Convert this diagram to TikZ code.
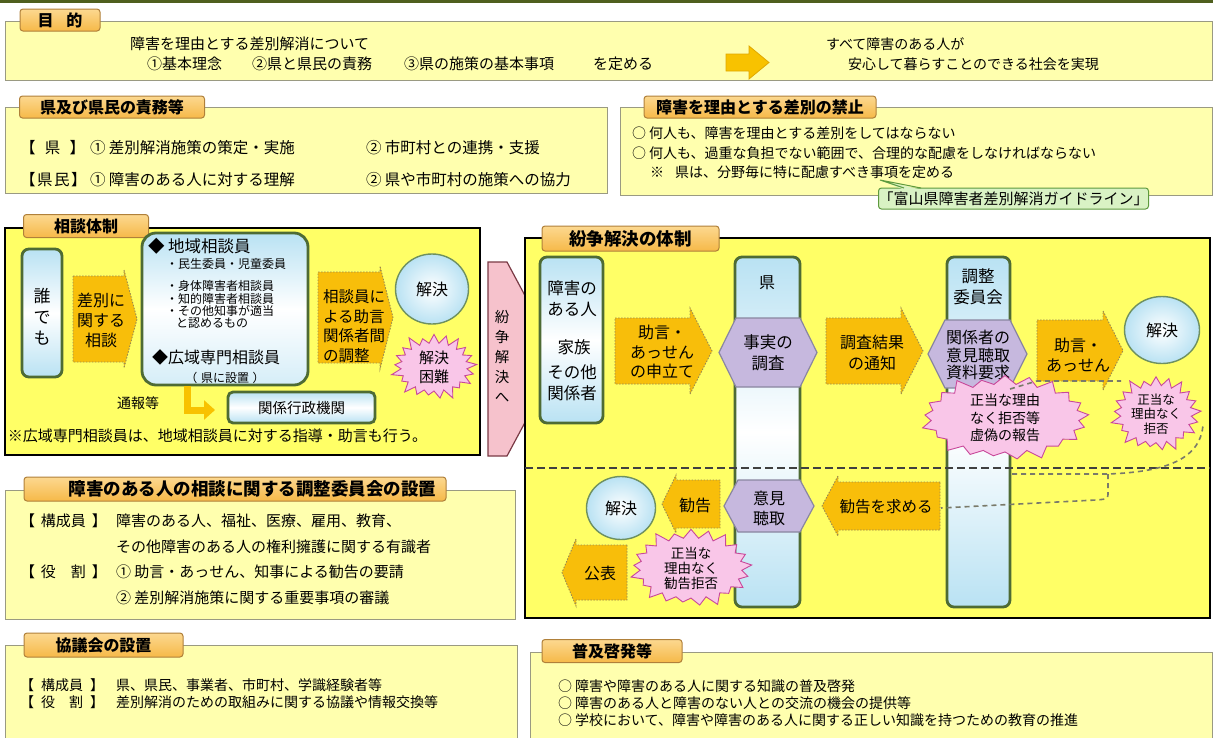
\documentclass[tikz,border=0pt]{standalone}
\usepackage{fontspec}
\setmainfont{Noto Sans CJK JP}
\usetikzlibrary{shapes.symbols,shapes.geometric,arrows.meta}
\definecolor{topbar}{HTML}{4F5F1E}
\definecolor{tabtop}{HTML}{FCD890}
\definecolor{tabbot}{HTML}{F6B948}
\definecolor{tabdraw}{HTML}{B0803A}
\definecolor{paley}{HTML}{FFFFAE}
\definecolor{paledraw}{HTML}{9A9A82}
\definecolor{brighty}{HTML}{FFFF66}
\definecolor{colblue}{HTML}{B9E2F3}
\definecolor{coldraw}{HTML}{4E6B34}
\definecolor{arrowfill}{HTML}{F8BE0A}
\definecolor{arrowdraw}{HTML}{9A8A50}
\definecolor{hexfill}{HTML}{C6B8DE}
\definecolor{hexdraw}{HTML}{8A86A0}
\definecolor{burstfill}{HTML}{F9C6E8}
\definecolor{burstdraw}{HTML}{C8489A}
\definecolor{pinkarrow}{HTML}{F6C2CC}
\definecolor{pinkdraw}{HTML}{7A3A45}
\definecolor{calloutfill}{HTML}{D9F2C4}
\definecolor{calloutdraw}{HTML}{5E9A3E}
\definecolor{soldraw}{HTML}{6E9060}
\definecolor{dashgrey}{HTML}{7A7A6A}
\definecolor{bigarrow}{HTML}{F8C200}
\definecolor{bigarrowdraw}{HTML}{E0A800}
\newcommand{\fz}[2]{\fontsize{#1}{#2}\selectfont}
\newcommand{\boxnode}[6]{\node[#1,anchor=north west,minimum width=#5pt-#3pt,minimum height=#6pt-#4pt,inner sep=0pt,outer sep=0pt] (#2) at (#3,#4) {};}
% right arrow: style x1 y1 x2 y2 headlen flare
\newcommand{\rarrow}[7]{\draw[#1] (#2,#3) -- ({#4-#6},#3) -- ({#4-#6},{#3-#7}) -- (#4,{(#3+#5)/2}) -- ({#4-#6},{#5+#7}) -- ({#4-#6},#5) -- (#2,#5) -- cycle;}
\newcommand{\larrow}[7]{\draw[#1] (#4,#3) -- ({#2+#6},#3) -- ({#2+#6},{#3-#7}) -- (#2,{(#3+#5)/2}) -- ({#2+#6},{#5+#7}) -- ({#2+#6},#5) -- (#4,#5) -- cycle;}
\newcommand{\hexpath}[6]{\draw[#1] (#2,{(#3+#5)/2}) -- ({#2+#6},#3) -- ({#4-#6},#3) -- (#4,{(#3+#5)/2}) -- ({#4-#6},#5) -- ({#2+#6},#5) -- cycle;}
\tikzset{
  base/.style={inner sep=0pt, outer sep=0pt},
  tx/.style={base, font=\fz{14}{17}},
  lbl/.style={base, font=\fz{16}{20}, align=center},
  tab/.style={base, draw=tabdraw, top color=tabtop, bottom color=tabbot, rounded corners=3pt, line width=1pt, font=\bfseries\fz{16}{18}},
  palebox/.style={draw=paledraw, fill=paley, line width=1pt},
  brightbox/.style={draw=black, fill=brighty, line width=1.8pt},
  column/.style={draw=coldraw, line width=2.8pt, rounded corners=7pt, top color=colblue, bottom color=colblue, middle color=white},
  flowarrow/.style={fill=arrowfill, draw=arrowdraw, dash pattern=on 1.5pt off 1.5pt, line width=0.9pt},
  hexa/.style={fill=hexfill, draw=hexdraw, line width=1.2pt},
  burst/.style={starburst, base, fill=burstfill, draw=burstdraw, line width=0.9pt, starburst points=21, starburst point height=12pt, align=center},
  sol/.style={ellipse, base, draw=soldraw, line width=1.4pt, inner color=white, outer color=colblue, font=\fz{16}{20}},
  greydash/.style={draw=dashgrey, line width=1.6pt, dash pattern=on 5pt off 4pt},
  sepline/.style={draw=black!75, line width=1.8pt, dash pattern=on 8pt off 4pt},
}
\begin{document}
\begin{tikzpicture}[x=1pt,y=-1pt]
\useasboundingbox (0,0) rectangle (1216,737);
\fill[white] (0,0) rectangle (1216,737);
\fill[topbar] (0,-6) rectangle (1213,3);

% ---------- 目的 ----------
\boxnode{palebox}{purposebox}{5}{21}{1212}{80}
\node[tab, minimum width=80pt, minimum height=22pt] (purposetab) at (60,20) {目\hspace{0.8em}的};
\node[tx, anchor=west, font=\fz{15}{18}] (p1) at (130,44) {障害を理由とする差別解消について};
\node[tx, anchor=west, font=\fz{15}{18}] (p2a) at (147,64) {①基本理念};
\node[tx, anchor=west, font=\fz{15}{18}] (p2b) at (252,64) {②県と県民の責務};
\node[tx, anchor=west, font=\fz{15}{18}] (p2c) at (404,64) {③県の施策の基本事項};
\node[tx, anchor=west, font=\fz{15}{18}] (p2d) at (593,64) {を定める};
\draw[fill=bigarrow, draw=bigarrowdraw, line width=0.8pt] (726,54) -- (749,54) -- (749,46) -- (769,62.5) -- (749,79) -- (749,71) -- (726,71) -- cycle;
\node[tx, anchor=west] (p3) at (826,44) {すべて障害のある人が};
\node[tx, anchor=west] (p4) at (848,64) {安心して暮らすことのできる社会を実現};

% ---------- 県及び県民の責務等 ----------
\boxnode{palebox}{dutybox}{5}{107}{607}{193}
\node[tab, minimum width=185pt, minimum height=22pt] (dutytab) at (112,107) {県及び県民の責務等};
\node[tx, anchor=west, font=\fz{15.5}{18}] (d1l) at (20,148) {【\hspace{0.6em}県\hspace{0.6em}】};
\node[tx, anchor=west, font=\fz{15.5}{18}] (d1a) at (90,148) {① 差別解消施策の策定・実施};
\node[tx, anchor=west, font=\fz{15.5}{18}] (d1b) at (366,148) {② 市町村との連携・支援};
\node[tx, anchor=west, font=\fz{15.5}{18}] (d2l) at (20,180) {【\hspace{0.1em}県\hspace{0.1em}民\hspace{0.1em}】};
\node[tx, anchor=west, font=\fz{15.5}{18}] (d2a) at (90,180) {① 障害のある人に対する理解};
\node[tx, anchor=west, font=\fz{15.5}{18}] (d2b) at (366,180) {② 県や市町村の施策への協力};

% ---------- 差別の禁止 ----------
\boxnode{palebox}{banbox}{620}{107}{1212}{195}
\node[tab, minimum width=232pt, minimum height=22pt] (bantab) at (760,107) {障害を理由とする差別の禁止};
\node[tx, anchor=west] (b1) at (632,133) {○ 何人も、障害を理由とする差別をしてはならない};
\node[tx, anchor=west] (b2) at (632,153) {○ 何人も、過重な負担でない範囲で、合理的な配慮をしなければならない};
\node[tx, anchor=west] (b3) at (650,172) {※\hspace{0.8em}県は、分野毎に特に配慮すべき事項を定める};
\node[base, draw=calloutdraw, fill=calloutfill, line width=1pt, rounded corners=3pt, minimum width=233pt, minimum height=21pt, font=\fz{15}{17}] (guide) at (1013.5,198.5) {「富山県障害者差別解消ガイドライン」};
\coordinate (calltip) at (880,180);
\fill[calloutfill] (904,189.6) -- (calltip) -- (921,189.6) -- cycle;
\draw[calloutdraw, line width=1pt] (904,188) -- (calltip) -- (921,188);

% ---------- 紛争解決へ (behind right box) ----------
\draw[fill=pinkarrow, draw=pinkdraw, line width=1.2pt] (488,262) -- (507,262) -- (559,359) -- (507,456) -- (488,456) -- cycle;
\node[base, font=\fz{14.5}{20}, align=center] (tofunso) at (502,356) {紛\\争\\解\\決\\へ};

% ---------- 相談体制 ----------
\boxnode{brightbox}{consultbox}{5}{228}{480}{455}
\node[tab, minimum width=125pt, minimum height=23pt] (consulttab) at (86,226) {相談体制};
\boxnode{column}{anyone}{22}{249}{62}{377}
\node[lbl, font=\fz{17}{21}] (anyonet) at (42,317) {誰\\で\\も};
\rarrow{flowarrow}{73}{276}{137}{362}{13}{6}
\node[lbl] (askt) at (101,320) {差別に\\関する\\相談};
\node[anchor=north west, minimum width=166pt, minimum height=152pt, base, draw=coldraw, line width=2.8pt, rounded corners=14pt, top color=colblue, bottom color=colblue!60, middle color=white] (localbox) at (142,233) {};
\node[base, anchor=west, font=\fz{16.5}{20}] (loc1) at (148,246) {◆ 地域相談員};
\node[base, anchor=west, font=\fz{12}{14}] (loc2) at (166,264) {・民生委員・児童委員};
\node[base, anchor=west, font=\fz{12}{14}] (loc3) at (166,286) {・身体障害者相談員};
\node[base, anchor=west, font=\fz{12}{14}] (loc4) at (166,299) {・知的障害者相談員};
\node[base, anchor=west, font=\fz{12}{14}] (loc5) at (166,311) {・その他知事が適当};
\node[base, anchor=west, font=\fz{12}{14}] (loc6) at (176,323) {と認めるもの};
\node[base, anchor=west, font=\fz{16}{20}] (loc7) at (152,357) {◆広域専門相談員};
\node[base, font=\fz{12}{14}] (loc8) at (225,378) {（\hspace{0.3em}県に設置\hspace{0.3em}）};
\rarrow{flowarrow}{318}{272}{393}{363}{13}{6}
\node[lbl, align=left, anchor=west, font=\fz{15.5}{19.5}] (advt) at (323,326) {相談員に\\よる助言\\関係者間\\の調整};
\node[sol, minimum width=73pt, minimum height=70pt] (solved1) at (432,289) {解決};
\node[burst, minimum width=90pt, minimum height=72pt, font=\fz{15}{19}] (hard) at (434,367) {解決\\困難};
\coordinate (lstart) at (187,386);
\coordinate (lend) at (215,410);
\draw[line width=7pt, bigarrow, -{Triangle[length=11pt,width=19pt]}] (lstart) |- (lend);
\node[base, font=\fz{14}{17}] (tsuho) at (138,403) {通報等};
\node[anchor=north west, base, minimum width=147pt, minimum height=31pt, draw=coldraw, line width=2.8pt, rounded corners=5pt, top color=colblue, bottom color=colblue, middle color=white, font=\fz{14.5}{17}] (agency) at (228,392) {関係行政機関};
\node[tx, anchor=west, font=\fz{15}{18}] (note) at (8,436) {※広域専門相談員は、地域相談員に対する指導・助言も行う。};

% ---------- 紛争解決の体制 ----------
\boxnode{brightbox}{funsobox}{525}{238}{1210}{618}
\node[tab, minimum width=177pt, minimum height=25pt, font=\bfseries\fz{17.5}{20}] (funsotab) at (630.5,238.5) {紛争解決の体制};
\boxnode{column}{persons}{540}{257}{603}{423}
\node[lbl, font=\fz{16.5}{21}] (pers1) at (572,299) {障害の\\ある人};
\node[lbl, font=\fz{16.5}{21}] (pers2) at (574,347) {家族};
\node[lbl, font=\fz{16.5}{21}] (pers3) at (572,383) {その他\\関係者};
\boxnode{column}{ken}{735}{257}{800}{607}
\node[lbl] (kent) at (767,283) {県};
\boxnode{column}{iinkai}{947}{257}{1010}{607}
\node[lbl, font=\fz{16.5}{21}] (iinkait) at (978,287) {調整\\委員会};
\draw[sepline] (525,468) -- (1210,468);
% hexagons
\hexpath{hexa}{719}{318}{817}{387}{17}
\node[lbl, font=\fz{16.5}{21}] (fact) at (768,353) {事実の\\調査};
\hexpath{hexa}{928}{320}{1027}{388}{17}
\node[lbl, font=\fz{16}{17.5}] (hear) at (978,355) {関係者の\\意見聴取\\資料要求};
\hexpath{hexa}{724}{480}{814}{532}{14}
\node[lbl, font=\fz{16}{20}] (opin) at (769,508) {意見\\聴取};
% arrows
\rarrow{flowarrow}{615}{318}{712}{384}{22}{10}
\node[lbl, font=\fz{16}{19.5}] (apply) at (662,352) {助言・\\あっせん\\の申立て};
\rarrow{flowarrow}{826}{318}{923}{384}{22}{10}
\node[lbl, font=\fz{16}{21}] (notify) at (872,353) {調査結果\\の通知};
\rarrow{flowarrow}{1037}{320}{1123}{381}{20}{9}
\node[lbl, font=\fz{16}{20}] (mediate) at (1078,355) {助言・\\あっせん};
\node[sol, minimum width=75pt, minimum height=67pt] (solved2) at (1162,330) {解決};
\larrow{flowarrow}{662}{480}{720}{528}{14}{5}
\node[lbl] (recomm) at (695,505) {勧告};
\larrow{flowarrow}{822}{482}{940}{530}{16}{6}
\node[lbl, font=\fz{15.5}{19}] (askrec) at (886,507) {勧告を求める};
\node[sol, minimum width=69pt, minimum height=63pt] (solved3) at (621,508) {解決};
\larrow{flowarrow}{562}{545}{627}{600}{14}{6}
\node[lbl] (publish) at (600,573) {公表};
% bursts
\node[burst, minimum width=172pt, minimum height=84pt, font=\fz{14}{17.5}] (refuse1) at (1005,418) {正当な理由\\なく拒否等\\虚偽の報告};
\node[burst, minimum width=94pt, minimum height=80pt, font=\fz{12.5}{14.5}] (refuse2) at (1156,414) {正当な\\理由なく\\拒否};
\node[burst, minimum width=126pt, minimum height=76pt, font=\fz{13.5}{15}] (refuse3) at (691,568) {正当な\\理由なく\\勧告拒否};
% grey dashed flows
\coordinate (g1) at (1010,389);
\coordinate (g2) at (1037,381);
\coordinate (g3) at (1121,381);
\draw[greydash] (g1) -- (g2) -- (g3);
\coordinate (h1) at (1012,474);
\coordinate (h2) at (1108,474);
\coordinate (h3) at (1203,425);
\coordinate (h4) at (1096,500);
\coordinate (h5) at (941,508);
\draw[greydash] (h1) -- (h2) .. controls (1160,472) and (1200,462) .. (h3);
\draw[greydash] (h2) -- (1108,492) .. controls (1108,499) .. (h4) -- (h5);

% ---------- 調整委員会の設置 ----------
\boxnode{palebox}{commbox}{5}{490}{515}{619}
\node[tab, minimum width=422pt, minimum height=24pt, font=\bfseries\fz{17.5}{20}] (commtab) at (235,489) {\hspace{2em}障害のある人の相談に関する調整委員会の設置};
\node[tx, anchor=west, font=\fz{15}{18}] (c1l) at (20,521) {【\hspace{0.4em}構成員\hspace{0.4em}】};
\node[tx, anchor=west, font=\fz{15}{18}] (c1) at (116,521) {障害のある人、福祉、医療、雇用、教育、};
\node[tx, anchor=west, font=\fz{15}{18}] (c2) at (116,547) {その他障害のある人の権利擁護に関する有識者};
\node[tx, anchor=west, font=\fz{15}{18}] (c3l) at (20,572) {【\hspace{0.4em}役\hspace{1em}割\hspace{0.4em}】};
\node[tx, anchor=west, font=\fz{15}{18}] (c3) at (116,572) {① 助言・あっせん、知事による勧告の要請};
\node[tx, anchor=west, font=\fz{15}{18}] (c4) at (116,598) {② 差別解消施策に関する重要事項の審議};

% ---------- 協議会の設置 ----------
\boxnode{palebox}{councilbox}{5}{645}{517}{745}
\node[tab, minimum width=159pt, minimum height=24pt] (counciltab) at (103.5,645) {協議会の設置};
\node[tx, anchor=west] (k1l) at (20,685) {【\hspace{0.5em}構成員\hspace{0.5em}】};
\node[tx, anchor=west] (k1) at (116,685) {県、県民、事業者、市町村、学識経験者等};
\node[tx, anchor=west] (k2l) at (20,702) {【\hspace{0.5em}役\hspace{1em}割\hspace{0.5em}】};
\node[tx, anchor=west] (k2) at (116,702) {差別解消のための取組みに関する協議や情報交換等};

% ---------- 普及啓発等 ----------
\boxnode{palebox}{promobox}{530}{652}{1212}{745}
\node[tab, minimum width=140pt, minimum height=23pt] (promotab) at (612,651) {普及啓発等};
\node[tx, anchor=west] (f1) at (558,686) {○ 障害や障害のある人に関する知識の普及啓発};
\node[tx, anchor=west] (f2) at (558,703) {○ 障害のある人と障害のない人との交流の機会の提供等};
\node[tx, anchor=west] (f3) at (558,720) {○ 学校において、障害や障害のある人に関する正しい知識を持つための教育の推進};
\end{tikzpicture}
\end{document}
